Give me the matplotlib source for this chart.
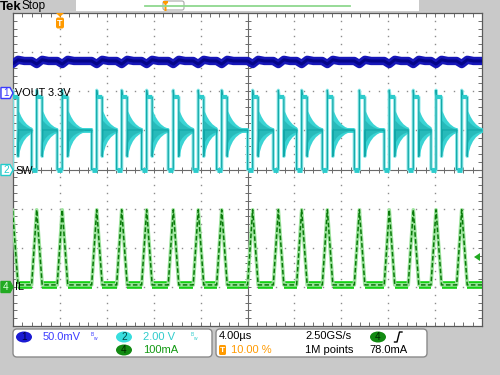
import matplotlib
matplotlib.use("Agg")
import matplotlib.pyplot as plt
import numpy as np
from matplotlib.patches import FancyBboxPatch, Ellipse, Polygon, Rectangle

# ---------------- data ----------------
# times (us, trigger = 0) of the inductor-current peaks (end of each on-time)
pulse_peak_us = [-4.04, -1.98, 0.20, 3.14, 5.27, 7.40, 9.67, 11.80, 13.80,
                 16.44, 18.63, 20.62, 22.81, 25.54, 28.09, 30.14, 32.08, 34.27]
t_on_us = 0.43          # SW low / IL rising
t_off_us = 0.47         # SW high / IL falling

# channel 1 : VOUT (50 mV/div)
ch1_scale_mV = 50.0
ch1_offset_div = 2.0
vout_level_mV = 38.7
vout_dip_mV = 4.0
vout_bump_mV = 1.5

# channel 2 : SW (2 V/div)
ch2_scale_V = 2.0
ch2_offset_div = 0.0
sw_low_V = 0.0
sw_high_V = 3.70
sw_spike_V = 4.05
vin_V = 2.02
ring_offset_us = [0.0, 0.10, 0.25, 0.45, 0.70, 1.00, 1.40]
ring_amp_up_V = [1.00, 0.90, 0.70, 0.50, 0.32, 0.18, 0.08]
ring_amp_dn_V = [1.35, 1.10, 0.80, 0.55, 0.35, 0.20, 0.08]

# channel 4 : IL (100 mA/div)
ch4_scale_mA = 100.0
ch4_offset_div = -3.0
il_base_mA = 5.0
il_peak_mA = 197.0

# screen
t_left_us, t_right_us = -4.0, 36.0
div_us = 4.0

# ---------------- figure ----------------
BG = "#c9c9c9"
FONT = "Liberation Sans"
fig = plt.figure(figsize=(5, 3.75), dpi=100, facecolor=BG)

ax_bg = fig.add_axes([0, 0, 1, 1], zorder=0)
ax_bg.set_xlim(0, 500); ax_bg.set_ylim(375, 0); ax_bg.axis("off")

ax = fig.add_axes([13 / 500, (375 - 326) / 375, 469 / 500, 313 / 375], zorder=1)
ax.set_facecolor("white")
ax.set_xlim(t_left_us, t_right_us)
ax.set_ylim(-4, 4)

ax_top = fig.add_axes([0, 0, 1, 1], zorder=2)
ax_top.set_xlim(0, 500); ax_top.set_ylim(375, 0); ax_top.axis("off")
ax_top.patch.set_alpha(0)

# ---- graticule ----
xs_minor = np.arange(t_left_us, t_right_us + 1e-6, div_us / 5)
ys_minor = np.arange(-4, 4 + 1e-6, 0.2)
for yk in [-3, -2, -1, 1, 2, 3]:
    ax.plot(xs_minor, np.full_like(xs_minor, yk), ls="none", marker="s", ms=1.0,
            mew=0, color="#8c8c8c", zorder=1)
for xk in [0, 4, 8, 12, 20, 24, 28, 32]:
    ax.plot(np.full_like(ys_minor, xk), ys_minor, ls="none", marker="s", ms=1.0,
            mew=0, color="#8c8c8c", zorder=1)
ax.axhline(0, color="#6a6a6a", lw=0.8, zorder=1)
ax.axvline(16, color="#6a6a6a", lw=0.8, zorder=1)
ax.plot(xs_minor, np.zeros_like(xs_minor), ls="none", marker="|", ms=4.5,
        mew=0.7, color="#6a6a6a", zorder=1)
ax.plot(np.full_like(ys_minor, 16), ys_minor, ls="none", marker="_", ms=4.5,
        mew=0.7, color="#6a6a6a", zorder=1)
ax.set_xticks(xs_minor)
ax.set_yticks(ys_minor)
ax.tick_params(direction="in", length=3, width=0.7, color="#707070",
               top=True, right=True, labelbottom=False, labelleft=False)
for s in ax.spines.values():
    s.set_color("#5a5a5a"); s.set_linewidth(0.9)

# ---- build traces from pulse times ----
def y1(mv):
    return ch1_offset_div + mv / ch1_scale_mV

def y2(v):
    return ch2_offset_div + v / ch2_scale_V

def y4(ma):
    return ch4_offset_div + ma / ch4_scale_mA

# IL
il_t, il_v = [t_left_us - 1], [il_base_mA]
for tp in pulse_peak_us:
    il_t += [tp - t_on_us, tp, tp + t_off_us]
    il_v += [il_base_mA, il_peak_mA, il_base_mA]
il_t.append(t_right_us + 1); il_v.append(il_base_mA)
il_t = np.array(il_t); il_y = y4(np.array(il_v))

for i, tp in enumerate(pulse_peak_us):
    t0 = tp + t_off_us
    t1 = pulse_peak_us[i + 1] - t_on_us if i + 1 < len(pulse_peak_us) else t_right_us + 1
    ax.plot([t0, t1], [y4(il_base_mA)] * 2, color="#14d014", lw=5.5,
            solid_capstyle="butt", zorder=3)
    ax.plot([t0, t1], [y4(il_base_mA)] * 2, color="#0a7a0a", lw=1.4,
            ls=(0, (1.5, 1.5)), alpha=0.8, zorder=3)
ax.plot(il_t, il_y, color="#9ee49e", lw=2.6, zorder=3)
ax.plot(il_t, il_y, color="#0a7a0a", lw=1.1, ls=(0, (3, 1.5)), zorder=4)

# SW
sw_t, sw_v = [t_left_us - 1], [sw_high_V]
for i, tp in enumerate(pulse_peak_us):
    if i > 0:
        sw_t += [tp - t_on_us]
        sw_v += [vin_V]
    sw_t += [tp - t_on_us, tp, tp, tp + 0.06, tp + t_off_us,
             tp + t_off_us, tp + t_off_us + 0.05]
    sw_v += [sw_low_V, sw_low_V, sw_spike_V, sw_high_V, sw_high_V,
             vin_V - ring_amp_dn_V[0], vin_V]
sw_t.append(t_right_us + 1); sw_v.append(vin_V)
sw_t = np.array(sw_t); sw_y = y2(np.array(sw_v))
ax.plot(sw_t, sw_y, color="#8ce8e8", lw=2.4, zorder=3)
ax.plot(sw_t, sw_y, color="#12a8a8", lw=0.9, zorder=4)

for i, tp in enumerate(pulse_peak_us):
    t0 = tp + t_off_us
    t1 = pulse_peak_us[i + 1] - t_on_us if i + 1 < len(pulse_peak_us) else t_right_us + 1
    ax.plot([t0, t1], [y2(vin_V)] * 2, color="#2cd2d2", lw=3.4,
            solid_capstyle="butt", zorder=3)
    ax.plot([t0, t1], [y2(vin_V)] * 2, color="#139e9e", lw=0.8,
            solid_capstyle="butt", alpha=0.7, zorder=3)
    rt = t0 + np.array(ring_offset_us)
    up = vin_V + np.array(ring_amp_up_V)
    dn = vin_V - np.array(ring_amp_dn_V)
    keep = rt <= t1
    rt_k, up_k, dn_k = list(rt[keep]), list(up[keep]), list(dn[keep])
    if len(rt_k) < len(rt):
        rt_k.append(t1)
        up_k.append(np.interp(t1, rt, up)); dn_k.append(np.interp(t1, rt, dn))
    rt_k = np.array(rt_k); up_k = np.array(up_k); dn_k = np.array(dn_k)
    ax.fill_between(rt_k, y2(dn_k), y2(up_k), color="#3ad4d4", lw=0, zorder=3)
    mid = vin_V
    ax.fill_between(rt_k, y2(mid - 0.5 * (mid - dn_k)), y2(mid + 0.5 * (up_k - mid)),
                    color="#129c9c", alpha=0.45, lw=0, zorder=3)
    ax.plot([tp - t_on_us, tp], [y2(sw_low_V)] * 2, color="#2ccccc", lw=3.5,
            solid_capstyle="butt", zorder=4)
    ax.plot([tp + 0.03, tp + t_off_us], [y2(sw_high_V)] * 2, color="#2ccccc", lw=3.0,
            solid_capstyle="butt", zorder=4)

# VOUT
vo_t, vo_v = [t_left_us - 1], [vout_level_mV]
for tp in pulse_peak_us:
    vo_t += [tp - t_on_us, tp, tp + t_off_us, tp + 1.0]
    vo_v += [vout_level_mV, vout_level_mV - vout_dip_mV,
             vout_level_mV + vout_bump_mV, vout_level_mV]
vo_t.append(t_right_us + 1); vo_v.append(vout_level_mV)
vo_t = np.array(vo_t); vo_y = y1(np.array(vo_v))
ax.plot(vo_t, vo_y, color="#1616b8", lw=6.0, zorder=3)
ax.plot(vo_t, vo_y, color="#000078", lw=2.2, alpha=0.75, zorder=4)

# ---- top status bar ----
ax_bg.add_patch(Rectangle((76, 0), 343, 11, fc="white", ec="none"))
ax_bg.plot([145, 350], [5.5, 5.5], color="#8fd88f", lw=1.3)
ax_bg.add_patch(FancyBboxPatch((163, 1), 21, 9, boxstyle="round,pad=0,rounding_size=2",
                               fc="none", ec="#a8a8a8", lw=0.8))
ax_bg.add_patch(Polygon([[163, 1], [168, 1], [168, 3], [166.5, 4], [166.5, 11],
                         [164.5, 11], [164.5, 4], [163, 3]], closed=True,
                        fc="#ff9a00", ec="none"))
ax_bg.text(-0.5, 6.5, "Tek", fontsize=9.5, fontweight="bold", family=FONT,
           va="center", ha="left", color="black")
ax_bg.text(21.5, 6.5, "Stop", fontsize=8.5, family=FONT, va="center", ha="left",
           color="black")

# trigger position marker
ax_top.add_patch(Polygon([[56, 13], [64, 13], [60, 17]], closed=True,
                         fc="#ff9a00", ec="none"))
ax_top.add_patch(FancyBboxPatch((56, 17.5), 8, 11, boxstyle="round,pad=0,rounding_size=2",
                                fc="#ff9a00", ec="none"))
ax_top.text(60, 23.2, "T", fontsize=6.5, fontweight="bold", color="white",
            ha="center", va="center", family=FONT)

# channel markers
def ch_marker(yc, label, fc, ec, tc):
    ax_top.add_patch(Polygon([[1, yc - 5.5], [10, yc - 5.5], [13, yc], [10, yc + 5.5],
                              [1, yc + 5.5]], closed=True, fc=fc, ec=ec, lw=1.0))
    ax_top.text(6, yc + 0.3, label, fontsize=7.2, color=tc, ha="center", va="center",
                family=FONT)

ch_marker(93, "1", "white", "#3a3aff", "#3a3aff")
ch_marker(170, "2", "white", "#22cccc", "#22cccc")
ch_marker(287, "4", "#22aa22", "#22aa22", "#d8ffd8")

ax_top.text(15, 93.5, "VOUT 3.3V", fontsize=7.8, family=FONT, va="center",
            ha="left", color="black")
ax_top.text(15, 170.5, "SW", fontsize=7.8, family=FONT, va="center", ha="left",
            color="black")
ax_top.text(15, 287.5, "IL", fontsize=7.8, family=FONT, va="center", ha="left",
            color="black")

# trigger level arrow
ax_top.add_patch(Polygon([[474, 257], [480, 253], [480, 261]], closed=True,
                         fc="#22aa22", ec="none"))

# ---- bottom readout boxes ----
ax_bg.add_patch(FancyBboxPatch((13, 329), 199, 28, boxstyle="round,pad=0,rounding_size=4",
                               fc="white", ec="#8a8a8a", lw=1.0))
ax_bg.add_patch(FancyBboxPatch((216, 329), 211, 28, boxstyle="round,pad=0,rounding_size=4",
                               fc="white", ec="#8a8a8a", lw=1.0))

def badge(x, y, label, fc, tc):
    ax_bg.add_patch(Ellipse((x, y), 16, 11, fc=fc, ec="none"))
    ax_bg.text(x, y + 0.3, label, fontsize=7.2, color=tc, ha="center", va="center",
               family=FONT)

badge(24, 337, "1", "#1a1ad2", "#000040")
badge(124, 337, "2", "#38dede", "#004848")
badge(124, 350, "4", "#128a12", "#002800")
badge(378, 337, "4", "#128a12", "#002800")

fs = 8.0
ax_bg.text(43, 337, "50.0mV", fontsize=fs, color="#3c3cff", family=FONT, va="center")
ax_bg.text(143, 337, "2.00 V", fontsize=fs, color="#30cccc", family=FONT, va="center")
ax_bg.text(143, 350, "100mA", fontsize=fs, color="#119911", family=FONT, va="center")
ax_bg.text(91, 334.5, "B", fontsize=3.5, color="#3c3cff", family=FONT, va="center")
ax_bg.text(93, 338.5, "w", fontsize=3.5, color="#3c3cff", family=FONT, va="center")
ax_bg.text(191, 334.5, "B", fontsize=3.5, color="#30cccc", family=FONT, va="center")
ax_bg.text(193, 338.5, "w", fontsize=3.5, color="#30cccc", family=FONT, va="center")

ax_bg.text(219, 336, "4.00\u00b5s", fontsize=fs, color="black", family=FONT, va="center")
ax_bg.add_patch(FancyBboxPatch((219, 345), 7, 10, boxstyle="round,pad=0,rounding_size=1.5",
                               fc="#ff9a00", ec="none"))
ax_bg.text(222.5, 350.3, "T", fontsize=6, fontweight="bold", color="white",
           ha="center", va="center", family=FONT)
ax_bg.text(231, 350, "10.00 %", fontsize=fs, color="#ff9a00", family=FONT, va="center")
ax_bg.text(305, 336, "2.50GS/s", fontsize=fs, color="black", family=FONT, va="center")
ax_bg.text(305, 350, "1M points", fontsize=fs, color="black", family=FONT, va="center")
ax_bg.text(369, 350, "78.0mA", fontsize=fs, color="black", family=FONT, va="center")
ax_bg.plot([394.5, 397, 399.5, 402], [342, 342, 332, 332], color="black", lw=1.0)

fig.savefig("out.png", dpi=100, facecolor=BG)
